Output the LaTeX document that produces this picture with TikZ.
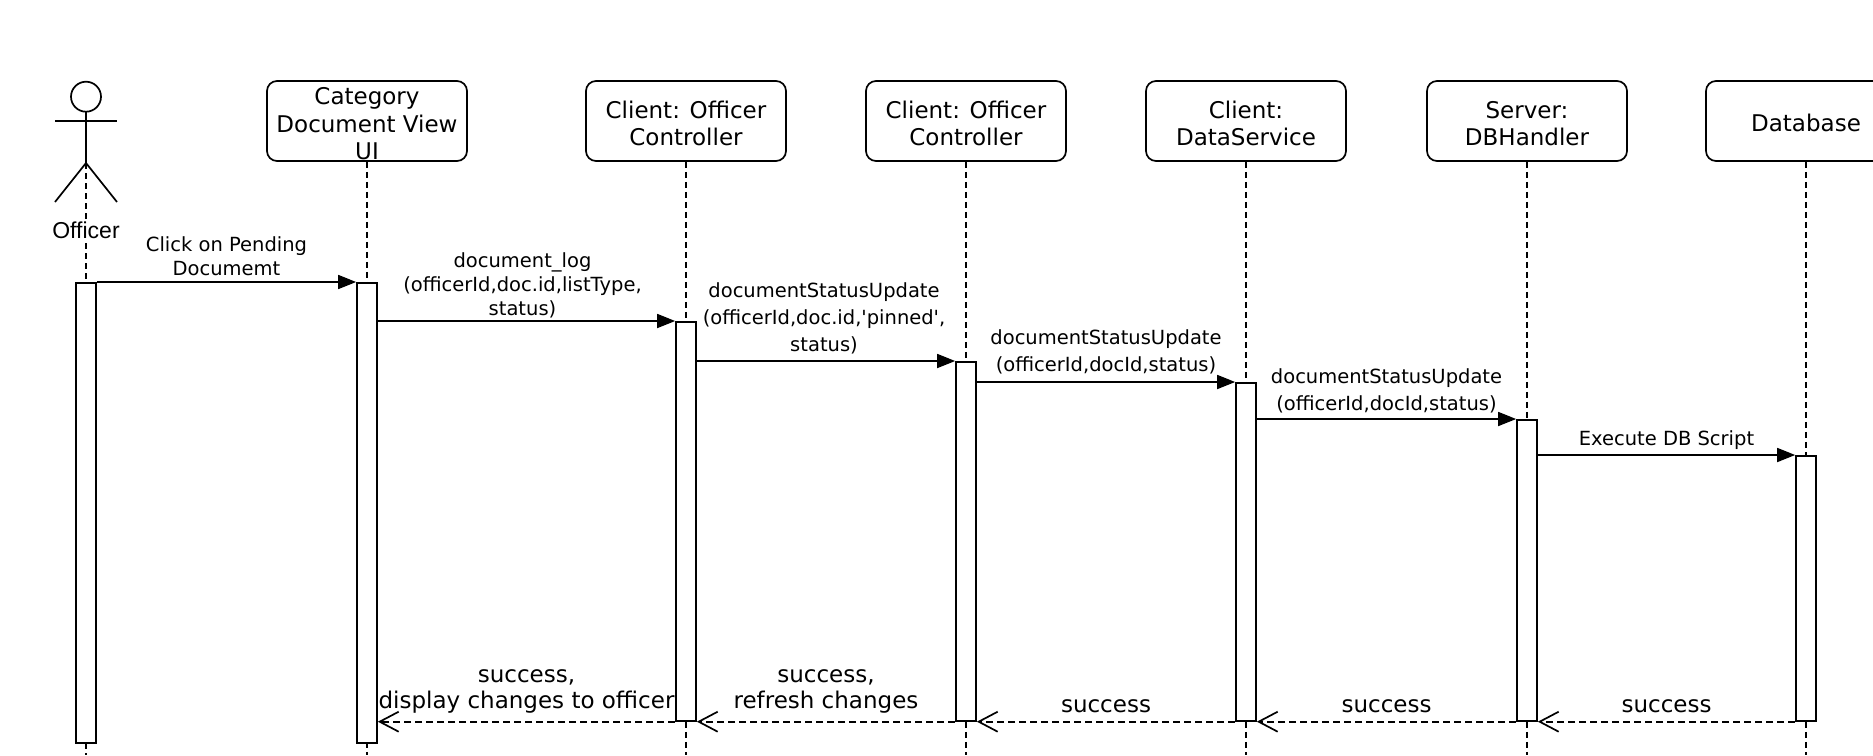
\documentclass[tikz,border=0pt]{standalone}
\usepackage{fontspec}
\setmainfont{DejaVu Sans}[Ligatures=TeXOff]
\newfontfamily\actorfont{Liberation Sans}
\usetikzlibrary{arrows.meta}
\begin{document}
\begin{tikzpicture}[x=1pt,y=-1pt,line width=1.7pt,
  lifebox/.style={draw, rounded corners=10pt, minimum width=200pt, minimum height=80pt, inner sep=0pt, fill=white},
  boxtext/.style={font=\fontsize{23}{27.5}\selectfont, align=center, inner sep=0pt},
  lifeline/.style={line width=1.5pt, dash pattern=on 6pt off 4pt},
  act/.style={draw, fill=white, minimum width=20pt, inner sep=0pt, anchor=north},
  msg/.style={-{Triangle[length=18pt,width=14pt]}},
  ret/.style={dash pattern=on 7pt off 4pt, -{Straight Barb[length=19pt,width=20pt]}},
  msglabel/.style={font=\fontsize{19.5}{24}\selectfont, align=center, inner sep=0pt},
  msglabelw/.style={font=\fontsize{19.5}{27}\selectfont, align=center, inner sep=0pt},
  retlabel/.style={font=\fontsize{23}{26}\selectfont, align=center, inner sep=0pt}
]
\useasboundingbox (0,0) rectangle (1873,755);
\clip (0,0) rectangle (1873,755);
\fill[white] (0,0) rectangle (1873,755);

% header boxes
\node[lifebox] (cat) at (367,121) {};
\node[lifebox] (cl1) at (686,121) {};
\node[lifebox] (cl2) at (966,121) {};
\node[lifebox] (ds)  at (1246,121) {};
\node[lifebox] (dbh) at (1527,121) {};
\node[lifebox] (db)  at (1806,121) {};

% lifeline ends
\coordinate (hip) at (86,163);
\coordinate (offEnd) at (86,755);
\coordinate (catEnd) at (367,755);
\coordinate (cl1End) at (686,755);
\coordinate (cl2End) at (966,755);
\coordinate (dsEnd) at (1246,755);
\coordinate (dbhEnd) at (1527,755);
\coordinate (dbEnd) at (1806,755);

\draw[lifeline] (hip) -- (offEnd);
\draw[lifeline] (cat.south) -- (catEnd);
\draw[lifeline] (cl1.south) -- (cl1End);
\draw[lifeline] (cl2.south) -- (cl2End);
\draw[lifeline] (ds.south) -- (dsEnd);
\draw[lifeline] (dbh.south) -- (dbhEnd);
\draw[lifeline] (db.south) -- (dbEnd);

% box texts
\node[boxtext] (catT) at (367,124) {Category\\Document View\\UI};
\node[boxtext] (cl1T) at (686,123.5) {Client: Officer\\Controller};
\node[boxtext] (cl2T) at (966,123.5) {Client: Officer\\Controller};
\node[boxtext] (dsT)  at (1246,123.5) {Client:\\DataService};
\node[boxtext] (dbhT) at (1527,123.5) {Server:\\DBHandler};
\node[boxtext] (dbT)  at (1806,123) {Database};

% actor
\draw (86,96.7) circle[radius=15pt];
\draw (86,111.7) -- (hip);
\draw (55,120.7) -- (117,120.7);
\draw (55,202) -- (hip) -- (117,202);
\node[font=\actorfont\fontsize{23}{26}\selectfont, fill=white, inner sep=2pt] (offL) at (86,230) {Officer};

% activations
\node[act, minimum height=460pt] (aOff) at (86,282) {};
\node[act, minimum height=460pt] (aCat) at (367,282) {};
\node[act, minimum height=399pt] (aCl1) at (686,321) {};
\node[act, minimum height=359pt] (aCl2) at (966,361) {};
\node[act, minimum height=338pt] (aDs)  at (1246,382) {};
\node[act, minimum height=301pt] (aDbh) at (1527,419) {};
\node[act, minimum height=265pt] (aDb)  at (1806,455) {};

% messages
\draw[msg] (aOff.north east) -- node[msglabel, yshift=26pt] {Click on Pending\\Documemt} (aCat.north west);
\draw[msg] (aCl1.north west -| aCat.east) -- node[msglabel, yshift=36pt, xshift=-4pt] {document\_log\\(officerId,doc.id,listType,\\status)} (aCl1.north west);
\draw[msg] (aCl2.north west -| aCl1.east) -- node[msglabelw, yshift=43pt, xshift=-2pt] {documentStatusUpdate\\(officerId,doc.id,'pinned',\\status)} (aCl2.north west);
\draw[msg] (aDs.north west -| aCl2.east) -- node[msglabelw, yshift=30.5pt] {documentStatusUpdate\\(officerId,docId,status)} (aDs.north west);
\draw[msg] (aDbh.north west -| aDs.east) -- node[msglabelw, yshift=28.5pt] {documentStatusUpdate\\(officerId,docId,status)} (aDbh.north west);
\draw[msg] (aDb.north west -| aDbh.east) -- node[msglabel, yshift=15pt] {Execute DB Script} (aDb.north west);

% returns
\draw[ret] (aDb.south west) -- node[retlabel, yshift=15pt] {success} (aDbh.south east);
\draw[ret] (aDbh.south west) -- node[retlabel, yshift=15pt] {success} (aDs.south east);
\draw[ret] (aDs.south west) -- node[retlabel, yshift=15pt] {success} (aCl2.south east);
\draw[ret] (aCl2.south west) -- node[retlabel, yshift=30pt] {success,\\refresh changes} (aCl1.south east);
\draw[ret] (aCl1.south west) -- node[retlabel, yshift=30pt] {success,\\display changes to officer} (aCl1.south west -| aCat.east);
\end{tikzpicture}
\end{document}
